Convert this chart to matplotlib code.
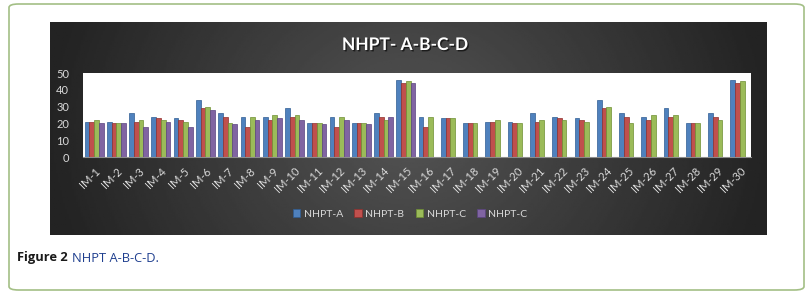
import numpy as np
import matplotlib.pyplot as plt
from matplotlib.patches import FancyBboxPatch
import matplotlib.patheffects as pe

# Data
labels = ["IM-%d" % i for i in range(1, 31)]
nhpt_a = [21, 21, 26, 24, 23, 34, 26, 24, 24, 29, 20, 24, 20, 26, 46,
          24, 23, 20, 21, 21, 26, 24, 23, 34, 26, 24, 29, 20, 26, 46]
nhpt_b = [21, 20, 21, 23, 22, 29, 24, 18, 22, 24, 20, 18, 20, 24, 44,
          18, 23, 20, 21, 20, 21, 23, 22, 29, 24, 22, 24, 20, 24, 44]
nhpt_c = [22, 20, 22, 22, 21, 30, 20, 24, 25, 25, 20, 24, 20, 22, 45,
          24, 23, 20, 22, 20, 22, 22, 21, 30, 20, 25, 25, 20, 22, 45]
# fourth series only present for the first 15 subjects
nhpt_d = [20, 20, 18, 21, 18, 28, 19.5, 22, 23, 22, 19.5, 22, 19.6, 24, 44] + [np.nan] * 15
series = [nhpt_a, nhpt_b, nhpt_c, nhpt_d]
series_names = ["NHPT-A", "NHPT-B", "NHPT-C", "NHPT-C"]
colors = ["#4F81BD", "#C0504D", "#9BBB59", "#8064A2"]
edges = ["#2f5d93", "#8f2e2b", "#6e8f32", "#5a4380"]

W, H = 810, 294
fig = plt.figure(figsize=(W / 100, H / 100), dpi=100)
fig.patch.set_facecolor("white")

# rounded green frame
frame = FancyBboxPatch((9 / W, 4 / H), 795 / W, 286 / H,
                       boxstyle="round,pad=0,rounding_size=0.012",
                       transform=fig.transFigure, facecolor="none",
                       edgecolor="#a3bf85", linewidth=1.2, zorder=-5)
fig.patches.append(frame)

# dark chart background with a soft radial gradient
bg = fig.add_axes([50 / W, 1 - 235 / H, 717 / W, 213 / H])
xx, yy = np.meshgrid(np.linspace(-1, 1, 400), np.linspace(-1, 1, 150))
r = np.sqrt((xx * 1.0) ** 2 + (yy * 0.35) ** 2)
shade = 0.33 - 0.19 * np.clip(r, 0, 1)
bg.imshow(shade, cmap="gray", vmin=0, vmax=1, aspect="auto",
          extent=[0, 1, 0, 1])
bg.set_axis_off()

fig.text(405 / W, 1 - 45 / H, "NHPT- A-B-C-D", color="white",
         fontsize=12.5, fontweight="bold", family="Lato",
         ha="center", va="center",
         path_effects=[pe.withSimplePatchShadow(offset=(1, -1),
                                                shadow_rgbFace="black",
                                                alpha=0.6)])

# plot area
ax = fig.add_axes([83 / W, 1 - 157 / H, 668 / W, 84 / H])
ax.set_facecolor("white")
x = np.arange(len(labels))
bw = 0.213
for i, vals in enumerate(series):
    ax.bar(x + (i - 1.5) * bw, vals, bw, color=colors[i],
           edgecolor=edges[i], linewidth=0.5, label=series_names[i])

ax.set_xlim(-0.5, len(labels) - 0.5)
ax.set_ylim(0, 50)
ax.set_yticks(range(0, 51, 10))
ax.set_xticks(x)
ax.set_xticklabels(labels, rotation=45, ha="right", rotation_mode="anchor",
                   family="Lato")
ax.tick_params(axis="both", length=0, colors="#d9d9d9", labelsize=8)
ax.tick_params(axis="y", pad=10)
ax.tick_params(axis="x", pad=6)
for lab in ax.get_yticklabels():
    lab.set_family("Lato")
for s in ["top", "right", "left"]:
    ax.spines[s].set_visible(False)
ax.spines["bottom"].set_color("#8c8c8c")

leg = fig.legend(loc="center", bbox_to_anchor=(410 / W, 1 - 214 / H),
                 ncol=4, frameon=False, handlelength=0.7,
                 handleheight=0.7, handletextpad=0.35, columnspacing=1.1,
                 prop={"family": "Lato", "size": 7.5})
for t in leg.get_texts():
    t.set_color("#d9d9d9")

# caption below the chart
cap1 = fig.text(17 / W, 1 - 258 / H, "Figure 2", fontsize=9.3, fontweight="bold",
                family="Open Sans", color="#1a1a1a", ha="left", va="center")
fig.canvas.draw()
bb = cap1.get_window_extent()
fig.text((bb.x1 + 4) / W, 1 - 258 / H, "NHPT A-B-C-D.", fontsize=9.3,
         family="Open Sans", color="#1f3f8f", ha="left", va="center")

fig.savefig("out.png", dpi=100)
